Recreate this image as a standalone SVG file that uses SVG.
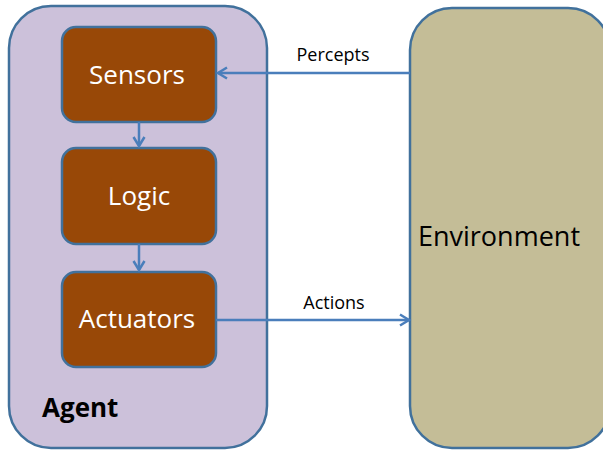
<svg xmlns="http://www.w3.org/2000/svg" width="603" height="450" viewBox="0 0 603 450">
<style>
.box{stroke:#41719C;stroke-width:2.5}
.inner{fill:#984807;stroke:#41719C;stroke-width:2.5}
.lbl{font-family:"Open Sans","Liberation Sans",sans-serif;fill:#fff;font-size:26px;text-anchor:middle}
.edge{stroke:#4A7EBB;stroke-width:2.5;fill:none}
.elbl{font-family:"Open Sans","Liberation Sans",sans-serif;font-size:18px;fill:#000;text-anchor:middle}
</style>
<defs>
<marker id="ah" markerWidth="14" markerHeight="14" refX="11" refY="7" orient="auto" markerUnits="userSpaceOnUse">
<path d="M2,1.5 L11,7 L2,12.5" fill="none" stroke="#4A7EBB" stroke-width="2.5"/>
</marker>
</defs>
<rect width="603" height="450" fill="#fff"/>
<g id="agent">
<rect class="box" x="9" y="6" width="258" height="442" rx="42" fill="#CCC1DA"/>
<text x="42" y="417" font-family="Open Sans,Liberation Sans,sans-serif" font-size="26" font-weight="bold" fill="#000">Agent</text>
</g>
<g id="environment">
<rect class="box" x="410" y="8" width="200" height="440" rx="42" fill="#C4BD97"/>
<text x="499" y="246" font-family="Open Sans,Liberation Sans,sans-serif" font-size="27" fill="#000" text-anchor="middle">Environment</text>
</g>
<g id="sensors">
<rect class="inner" x="62" y="27" width="154" height="95" rx="14"/>
<text class="lbl" x="137" y="84">Sensors</text>
</g>
<g id="logic">
<rect class="inner" x="62" y="148" width="154" height="96" rx="14"/>
<text class="lbl" x="139" y="205">Logic</text>
</g>
<g id="actuators">
<rect class="inner" x="62" y="272" width="154" height="95" rx="14"/>
<text class="lbl" x="137" y="328">Actuators</text>
</g>
<g id="connectors">
<line class="edge" x1="139" y1="122" x2="139" y2="146" marker-end="url(#ah)"/>
<line class="edge" x1="139" y1="244" x2="139" y2="270" marker-end="url(#ah)"/>
<line class="edge" x1="410" y1="73" x2="218" y2="73" marker-end="url(#ah)"/>
<line class="edge" x1="216" y1="320" x2="409" y2="320" marker-end="url(#ah)"/>
<text class="elbl" x="333" y="61">Percepts</text>
<text class="elbl" x="334" y="309">Actions</text>
</g>
</svg>
